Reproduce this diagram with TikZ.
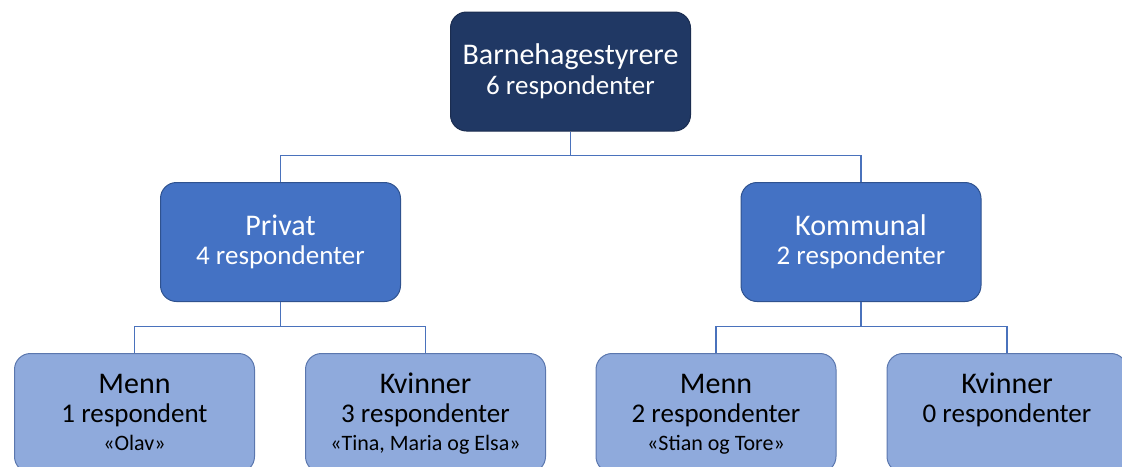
\documentclass[tikz,border=0pt]{standalone}
\usepackage{fontspec}
\setmainfont{Carlito}
\usetikzlibrary{positioning}

\definecolor{navy}{HTML}{203864}
\definecolor{navyline}{HTML}{1B2D50}
\definecolor{midblue}{HTML}{4472C4}
\definecolor{midline}{HTML}{2F528F}
\definecolor{lightblue}{HTML}{8FAADC}
\definecolor{lightline}{HTML}{5B77AE}
\definecolor{linkblue}{HTML}{4A72BC}

\newcommand{\headfont}{\fontsize{30}{29.5}\selectfont}
\newcommand{\genderfont}{\headfont\rule{0pt}{24pt}}
\newcommand{\names}{\fontsize{22}{22}\selectfont\strut}

\tikzset{
  orgbox/.style={draw, line width=1pt, rounded corners=16pt, align=center,
    minimum width=240pt, minimum height=119pt, inner sep=0pt,
    font=\fontsize{27}{29.5}\selectfont},
  lvltop/.style={orgbox, fill=navy, draw=navyline, text=white},
  lvlmid/.style={orgbox, fill=midblue, draw=midline, text=white},
  lvlbot/.style={orgbox, fill=lightblue, draw=lightline, text=black},
  link/.style={draw=linkblue, line width=1.1pt}
}

\begin{document}
\begin{tikzpicture}[x=1pt, y=-1pt]
\clip (0,0) rectangle (1122,466);
% top level
\node[lvltop] (styrere) at (570.5,71.5) {{\headfont Barnehagestyrere}\\6 respondenter};
% owner type
\node[lvlmid] (privat) at (280.5,242) {{\headfont Privat}\\4 respondenter};
\node[lvlmid] (kommunal) at (861,242) {{\headfont Kommunal}\\2 respondenter};
% gender
\node[lvlbot] (privmenn) at (134.5,413) {{\genderfont Menn}\\1 respondent\\[-2pt]{\names «Olav»}};
\node[lvlbot] (privkvinner) at (425.5,413) {{\genderfont Kvinner}\\3 respondenter\\[-2pt]{\names «Tina, Maria og Elsa»}};
\node[lvlbot] (kommenn) at (716,413) {{\genderfont Menn}\\2 respondenter\\[-2pt]{\names «Stian og Tore»}};
\node[lvlbot] (komkvinner) at (1007,413) {{\genderfont Kvinner}\\0 respondenter\\[-2pt]{\names}};

% connectors
\draw[link] (styrere.south) -- ++(0,24) -| (privat.north);
\draw[link] (styrere.south) -- ++(0,24) -| (kommunal.north);
\draw[link] (privat.south) -- ++(0,24.5) -| (privmenn.north);
\draw[link] (privat.south) -- ++(0,24.5) -| (privkvinner.north);
\draw[link] (kommunal.south) -- ++(0,24.5) -| (kommenn.north);
\draw[link] (kommunal.south) -- ++(0,24.5) -| (komkvinner.north);
\end{tikzpicture}
\end{document}
